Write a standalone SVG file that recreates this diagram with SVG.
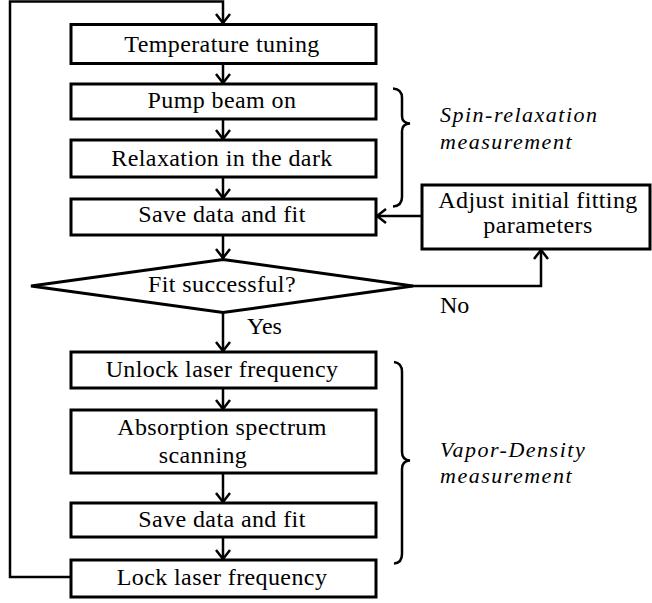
<svg xmlns="http://www.w3.org/2000/svg" width="652" height="603" viewBox="0 0 652 603">
<defs>
<style>
.box{fill:#fff;stroke:#000;stroke-width:3}
.t{font-family:"Liberation Serif","Times New Roman",serif;font-size:24px;fill:#000;text-anchor:middle;letter-spacing:0.4px}
.lbl{font-family:"Liberation Serif","Times New Roman",serif;font-size:24px;fill:#000}
.it{font-family:"Liberation Serif","Times New Roman",serif;font-size:22px;font-style:italic;fill:#000;letter-spacing:1.5px}
.c{fill:none;stroke:#000;stroke-width:2.5}
.br{fill:none;stroke:#000;stroke-width:2.5}
</style>
<marker id="arr" viewBox="-11 -9 13 18" refX="0" refY="0" markerWidth="13" markerHeight="18" markerUnits="userSpaceOnUse" orient="auto">
<path d="M-9,-7 L0,0 L-9,7" fill="none" stroke="#000" stroke-width="2.5"/>
</marker>
</defs>
<rect width="652" height="603" fill="#fff"/>
<g id="connectors">
<path class="c" d="M70,577 H10 V1.5 H223 V23" marker-end="url(#arr)"/>
<path class="c" d="M223,64 V83" marker-end="url(#arr)"/>
<path class="c" d="M223,119 V139" marker-end="url(#arr)"/>
<path class="c" d="M223,177 V198" marker-end="url(#arr)"/>
<path class="c" d="M223,235 V258" marker-end="url(#arr)"/>
<path class="c" d="M223,313 V351" marker-end="url(#arr)"/>
<path class="c" d="M412,286 H541 V250" marker-end="url(#arr)"/>
<path class="c" d="M422,216 H377" marker-end="url(#arr)"/>
<path class="c" d="M223,388 V409" marker-end="url(#arr)"/>
<path class="c" d="M223,473 V502" marker-end="url(#arr)"/>
<path class="c" d="M223,537 V559" marker-end="url(#arr)"/>
</g>
<g id="temp"><rect class="box" x="71" y="24.5" width="305" height="39"/><text class="t" x="222" y="52">Temperature tuning</text></g>
<g id="pump"><rect class="box" x="71" y="84" width="305" height="35"/><text class="t" x="222" y="108">Pump beam on</text></g>
<g id="relax"><rect class="box" x="71" y="140" width="305" height="37"/><text class="t" x="222" y="166">Relaxation in the dark</text></g>
<g id="save1"><rect class="box" x="71" y="199" width="305" height="36"/><text class="t" x="222" y="222">Save data and fit</text></g>
<g id="adjust"><rect class="box" x="422" y="185" width="228" height="64"/><text class="t" x="538" y="208">Adjust initial fitting</text><text class="t" x="538" y="233">parameters</text></g>
<g id="decision"><polygon class="box" points="223,259.5 413,286 223,312.5 31,286"/><text class="t" x="222" y="292">Fit successful?</text></g>
<g id="yes-label"><text class="lbl" x="247" y="334">Yes</text></g>
<g id="no-label"><text class="lbl" x="440" y="313">No</text></g>
<g id="unlock"><rect class="box" x="71" y="352" width="305" height="36"/><text class="t" x="222" y="377">Unlock laser frequency</text></g>
<g id="absorption"><rect class="box" x="71" y="410" width="305" height="63"/><text class="t" x="222" y="435">Absorption spectrum</text><text class="t" x="203" y="463">scanning</text></g>
<g id="save2"><rect class="box" x="71" y="503" width="305" height="34"/><text class="t" x="222" y="527">Save data and fit</text></g>
<g id="lock"><rect class="box" x="71" y="560" width="305" height="37"/><text class="t" x="222" y="585">Lock laser frequency</text></g>
<g id="spin-brace">
<path class="br" d="M393,88.5 Q402,89 402,98 V116 Q402,123 410,123.5 Q402,124 402,131 V197 Q402,206 393,206.5"/>
<text class="it" x="440" y="122">Spin-relaxation</text>
<text class="it" x="440" y="149">measurement</text>
</g>
<g id="vapor-brace">
<path class="br" d="M394,362 Q402,363 402,372 V452 Q402,460 410,460.5 Q402,461 402,469 V554 Q402,563 394,563.5"/>
<text class="it" x="440" y="457">Vapor-Density</text>
<text class="it" x="440" y="483">measurement</text>
</g>
</svg>
